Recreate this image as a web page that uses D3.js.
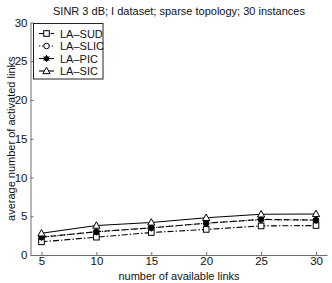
<!DOCTYPE html>
<html><head><meta charset="utf-8">
<script src="https://cdn.jsdelivr.net/npm/d3@7"></script>
<style>
html,body{margin:0;padding:0;background:#fff;}
svg{display:block;font-family:"Liberation Sans",Arial,sans-serif;}
</style></head>
<body>
<svg id="chart" width="332" height="283"></svg>
<script>
const titleText = "SINR 3 dB; I dataset; sparse topology; 30 instances";
const xLabel = "number of available links";
const yLabel = "average number of activated links";
const xValues = [5, 10, 15, 20, 25, 30];
const xTicks = [5, 10, 15, 20, 25, 30];
const yTicks = [0, 5, 10, 15, 20, 25, 30];
const seriesNames = ["LA\u2013SUD", "LA\u2013SLIC", "LA\u2013PIC", "LA\u2013SIC"];
const sudValues  = [1.7, 2.3, 2.9, 3.3, 3.75, 3.8];
const slicValues = [2.3, 3.0, 3.5, 4.1, 4.55, 4.5];
const picValues  = [2.3, 3.0, 3.5, 4.1, 4.6, 4.5];
const sicValues  = [2.8, 3.8, 4.2, 4.8, 5.25, 5.3];

const series = [
  {name: seriesNames[0], values: sudValues,  dash: "6,2,1.5,2", marker: "square"},
  {name: seriesNames[1], values: slicValues, dash: "1.2,2",     marker: "circle"},
  {name: seriesNames[2], values: picValues,  dash: "6,3",       marker: "star"},
  {name: seriesNames[3], values: sicValues,  dash: null,        marker: "triangle"}
];

const svg = d3.select("#chart");
const x = d3.scaleLinear().domain([4, 31]).range([30.5, 327]);
const y = d3.scaleLinear().domain([0, 30]).range([255, 22.5]);
const axisColor = "#6e6e6e";

// title
svg.append("text").attr("x", 179).attr("y", 15).attr("text-anchor", "middle")
  .attr("font-size", 11).attr("fill", "#111").text(titleText);

// axes (box off, ticks inward)
const xAxis = svg.append("g").attr("transform", `translate(0,${y(0)})`)
  .call(d3.axisBottom(x).tickValues(xTicks).tickSizeInner(-3).tickSizeOuter(0).tickPadding(2));
const yAxis = svg.append("g").attr("transform", `translate(${x(4)},0)`)
  .call(d3.axisLeft(y).tickValues(yTicks).tickSizeInner(-3).tickSizeOuter(0).tickPadding(3));
[xAxis, yAxis].forEach(g => {
  g.select(".domain").attr("stroke", axisColor);
  g.selectAll(".tick line").attr("stroke", axisColor);
  g.selectAll(".tick text").attr("font-size", 11.5).attr("fill", "#111")
    .attr("font-family", '"Liberation Sans",Arial,sans-serif');
});

svg.append("text").attr("x", 179).attr("y", 280).attr("text-anchor", "middle")
  .attr("font-size", 11).attr("fill", "#111").text(xLabel);
svg.append("text").attr("transform", `translate(15,${(y(0)+y(30))/2}) rotate(-90)`)
  .attr("text-anchor", "middle").attr("font-size", 11).attr("fill", "#111").text(yLabel);

function drawMarker(g, type, cx, cy) {
  if (type === "square") {
    g.append("rect").attr("x", cx-2.8).attr("y", cy-2.8).attr("width", 5.6).attr("height", 5.6)
      .attr("fill", "#fff").attr("stroke", "#000").attr("stroke-width", 1);
  } else if (type === "circle") {
    g.append("circle").attr("cx", cx).attr("cy", cy).attr("r", 2.8)
      .attr("fill", "#fff").attr("stroke", "#000").attr("stroke-width", 1);
  } else if (type === "star") {
    g.append("circle").attr("cx", cx).attr("cy", cy).attr("r", 2.6).attr("fill", "#000");
    const s = 3.6;
    [[0,1],[0.87,0.5],[0.87,-0.5]].forEach(([dx,dy]) => {
      g.append("line").attr("x1", cx-dx*s).attr("y1", cy-dy*s).attr("x2", cx+dx*s).attr("y2", cy+dy*s)
        .attr("stroke", "#000").attr("stroke-width", 1);
    });
  } else if (type === "triangle") {
    const s = 3.8;
    g.append("path").attr("d", `M${cx},${cy-s}L${cx+s*0.95},${cy+s*0.7}L${cx-s*0.95},${cy+s*0.7}Z`)
      .attr("fill", "#fff").attr("stroke", "#000").attr("stroke-width", 1);
  }
}

const line = d3.line().x((d, i) => x(xValues[i])).y(d => y(d));
series.forEach(s => {
  const g = svg.append("g");
  g.append("path").attr("d", line(s.values)).attr("fill", "none").attr("stroke", "#000")
    .attr("stroke-width", 1.1).attr("stroke-dasharray", s.dash);
  s.values.forEach((v, i) => drawMarker(g, s.marker, x(xValues[i]), y(v)));
});

// legend
const leg = svg.append("g");
leg.append("rect").attr("x", 33.5).attr("y", 23.5).attr("width", 69.5).attr("height", 55.5)
  .attr("fill", "#fff").attr("stroke", "#222").attr("stroke-width", 1);
const rowY = [33.5, 46, 58.5, 71];
series.forEach((s, i) => {
  const yy = rowY[i];
  leg.append("line").attr("x1", 39).attr("x2", 54).attr("y1", yy).attr("y2", yy)
    .attr("stroke", "#000").attr("stroke-width", 1.1).attr("stroke-dasharray", s.dash);
  drawMarker(leg, s.marker, 46.5, yy);
  leg.append("text").attr("x", 60).attr("y", yy + 4).attr("font-size", 11).attr("fill", "#111").text(s.name);
});
</script>
</body></html>
